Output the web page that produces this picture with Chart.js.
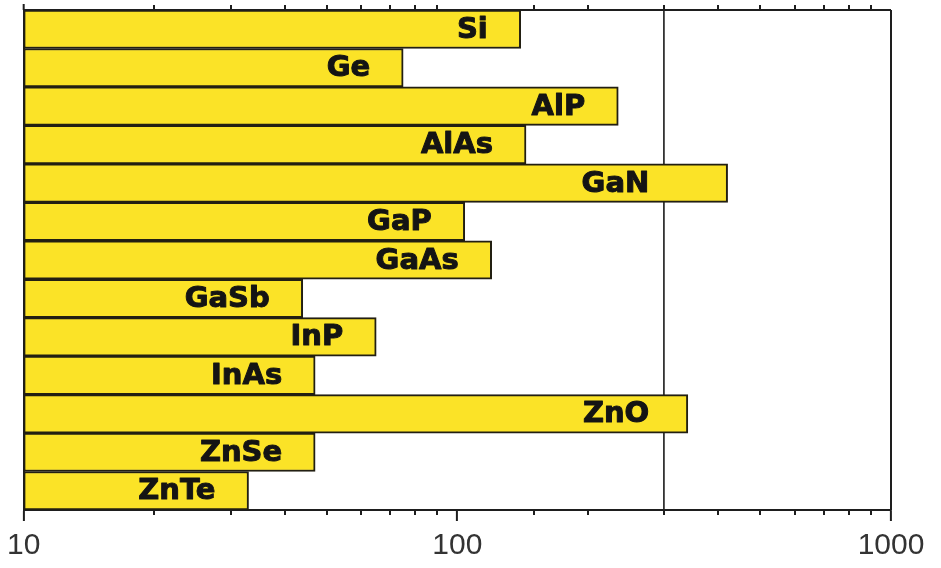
<!DOCTYPE html>
<html>
<head>
<meta charset="utf-8">
<script src="https://cdn.jsdelivr.net/npm/chart.js@4/dist/chart.umd.min.js"></script>
<style>
  html, body { margin: 0; padding: 0; background: #ffffff; }
  #wrap { width: 941px; height: 568px; position: relative; }
</style>
</head>
<body>
<div id="wrap"><canvas id="chart"></canvas></div>
<script>
// Semiconductor materials, top to bottom
const materials = ['Si', 'Ge', 'AlP', 'AlAs', 'GaN', 'GaP', 'GaAs', 'GaSb', 'InP', 'InAs', 'ZnO', 'ZnSe', 'ZnTe'];
// Bar lengths on the logarithmic axis
const values = [140, 75, 235, 144, 420, 104, 120, 44, 65, 47, 340, 47, 33];
// Axis range, labelled decades and the reference line
const axisMin = 10;
const axisMax = 1000;
const decadeLabels = [10, 100, 1000];
const markerValue = 300;

const INK = '#1e1e1e';
const isDecade = v => decadeLabels.includes(v);

// Frame, minor ticks and the bold names inside each bar
const decorations = {
  id: 'decorations',
  afterDatasetsDraw(chart) {
    const ctx = chart.ctx;
    const xs = chart.scales.x;
    const meta = chart.getDatasetMeta(0);
    const cap = xs.getPixelForValue(markerValue);
    ctx.save();
    ctx.font = 'bold 29px "DejaVu Sans", sans-serif';
    ctx.fillStyle = '#141414';
    ctx.strokeStyle = '#141414';
    ctx.lineWidth = 1;
    ctx.lineJoin = 'round';
    ctx.textAlign = 'right';
    ctx.textBaseline = 'middle';
    meta.data.forEach((bar, i) => {
      const end = bar.x;
      const right = end > cap ? cap - 15 : end - 33;
      ctx.fillText(materials[i], right, bar.y + 1);
      ctx.strokeText(materials[i], right, bar.y + 1);
    });
    ctx.restore();
  },
  afterDraw(chart) {
    const ctx = chart.ctx;
    const a = chart.chartArea;
    const xs = chart.scales.x;
    ctx.save();
    ctx.strokeStyle = INK;
    ctx.lineWidth = 2;
    // top and right edges of the frame
    ctx.beginPath();
    ctx.moveTo(a.left, a.top);
    ctx.lineTo(a.right, a.top);
    ctx.moveTo(a.right, a.top);
    ctx.lineTo(a.right, a.bottom);
    ctx.stroke();
    // minor ticks on top and bottom edges
    xs.ticks.forEach(t => {
      if (isDecade(t.value)) return;
      const px = Math.round(xs.getPixelForValue(t.value));
      ctx.beginPath();
      ctx.moveTo(px, a.top);
      ctx.lineTo(px, a.top - 5);
      ctx.moveTo(px, a.bottom);
      ctx.lineTo(px, a.bottom + 5);
      ctx.stroke();
    });
    // decade tick on the top edge at the left corner
    ctx.beginPath();
    ctx.moveTo(a.left, a.top);
    ctx.lineTo(a.left, a.top - 6);
    ctx.stroke();
    ctx.restore();
  }
};

new Chart(document.getElementById('chart'), {
  type: 'bar',
  data: {
    labels: materials,
    datasets: [{
      data: values,
      backgroundColor: '#fbe327',
      borderColor: '#221f12',
      borderWidth: 2,
      borderSkipped: false,
      barPercentage: 1,
      categoryPercentage: 1
    }]
  },
  options: {
    indexAxis: 'y',
    responsive: true,
    maintainAspectRatio: false,
    animation: false,
    layout: { padding: { left: 23, right: 50, top: 10, bottom: 0 } },
    plugins: {
      legend: { display: false },
      tooltip: { enabled: false }
    },
    scales: {
      x: {
        type: 'logarithmic',
        position: 'bottom',
        min: axisMin,
        max: axisMax,
        z: 1,
        border: { display: true, color: INK, width: 2 },
        grid: {
          display: true,
          drawOnChartArea: true,
          drawTicks: true,
          tickLength: 11,
          tickWidth: 2,
          lineWidth: 1.8,
          color: c => (c.tick && c.tick.value === markerValue) ? '#333333' : 'rgba(0,0,0,0)',
          tickColor: c => (c.tick && isDecade(c.tick.value)) ? INK : 'rgba(0,0,0,0)'
        },
        ticks: {
          autoSkip: false,
          maxRotation: 0,
          minRotation: 0,
          padding: 7,
          color: '#333333',
          font: { family: '"Liberation Sans", Arial, sans-serif', size: 30 },
          callback: v => isDecade(v) ? String(v) : ''
        },
        afterFit: s => { s.height = 58; }
      },
      y: {
        type: 'category',
        position: 'left',
        border: { display: true, color: INK, width: 2 },
        grid: { display: false, drawTicks: false },
        ticks: { display: false },
        afterFit: s => { s.width = 0; }
      }
    }
  },
  plugins: [decorations]
});
</script>
</body>
</html>
